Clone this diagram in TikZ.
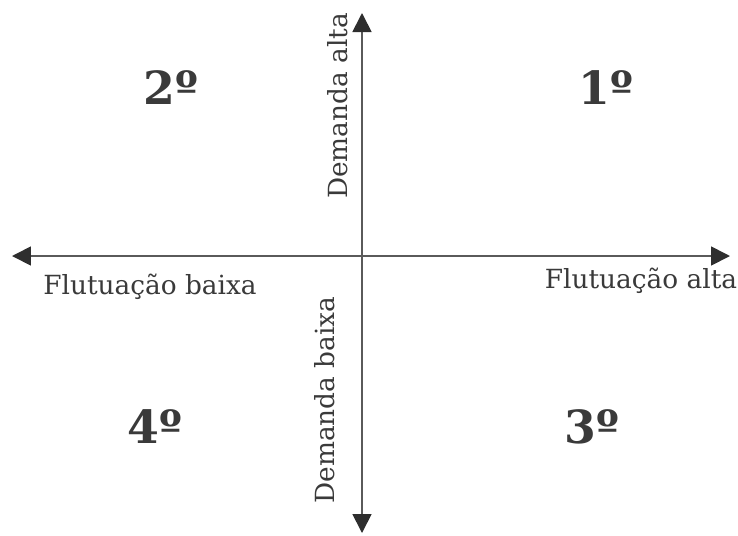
\documentclass[tikz,border=0pt]{standalone}
\usepackage{fontspec}
\setmainfont{DejaVu Serif}
\usetikzlibrary{arrows.meta,positioning}
\definecolor{AxisGray}{HTML}{5A5A5A}
\definecolor{TipDark}{HTML}{2E2E2E}
\definecolor{LabelGray}{HTML}{3A3A3A}

\begin{document}
\begin{tikzpicture}[line cap=round,line join=round,
    axis/.style={AxisGray,line width=1pt,-{Triangle[length=3.8mm,width=3.8mm,color=TipDark]}},
    axislabel/.style={LabelGray,font=\fontsize{15}{17}\selectfont,inner sep=0pt},
    quadrant/.style={LabelGray,font=\fontsize{26}{30}\selectfont\bfseries,inner sep=0pt}]
  \useasboundingbox (-7.24,-5.58) rectangle (7.52,5.12);
  \coordinate (O) at (0,0);
  \coordinate (E) at (7.36,0);
  \coordinate (W) at (-7.0,0);
  \coordinate (N) at (0,4.86);
  \coordinate (S) at (0,-5.54);

  \draw[axis] (O)--(E);
  \draw[axis] (O)--(W);
  \draw[axis] (O)--(N);
  \draw[axis] (O)--(S);

  \node[axislabel,rotate=90] (dalta) at (-0.48,3.0) {Demanda alta};
  \node[axislabel,rotate=90] (dbaixa) at (-0.74,-2.88) {Demanda baixa};
  \node[axislabel] (fbaixa) at (-4.24,-0.62) {Flutuação baixa};
  \node[axislabel] (falta) at (5.58,-0.5) {Flutuação alta};

  \node[quadrant] (q1) at (4.88,3.36) {1º};
  \node[quadrant] (q2) at (-3.82,3.36) {2º};
  \node[quadrant] (q3) at (4.6,-3.42) {3º};
  \node[quadrant] (q4) at (-4.14,-3.42) {4º};
\end{tikzpicture}
\end{document}
